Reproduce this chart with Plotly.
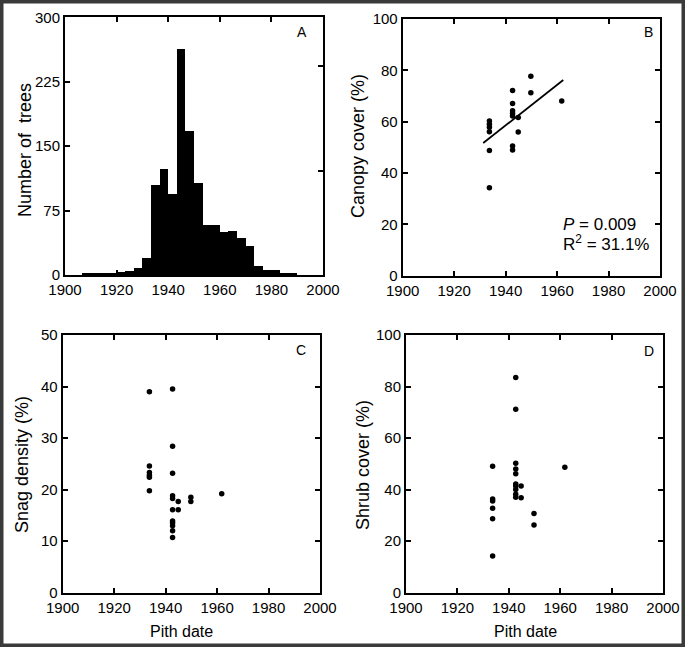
import numpy as np
import plotly.graph_objects as go

# ---------------- data ----------------
# Panel A: histogram of pith dates, 30 bins over 1900-2000
HIST_START = 1900
HIST_END = 2000
HIST_COUNTS = [0, 0, 1, 1, 1, 2, 3, 4, 8, 20,
               105, 123, 94, 263, 167, 107, 58, 58, 50, 51,
               43, 33, 10, 5, 5, 2, 1, 0, 0, 0]

# Panels B-D: site means vs pith date
CANOPY_X = [1933.7] * 6 + [1942.7] * 7 + [1944.9] * 2 + [1949.8] * 2 + [1961.8]
CANOPY_Y = [60.3, 59.0, 57.8, 56.1, 48.8, 34.3,
            72.1, 67.1, 64.3, 63.2, 62.2, 50.5, 49.0,
            61.6, 56.0,
            77.7, 71.3,
            68.1]
FIT_X = [1931.3, 1962.4]

SNAG_X = [1933.7] * 6 + [1942.7] * 11 + [1944.9] * 2 + [1949.8] * 2 + [1961.8]
SNAG_Y = [39.0, 24.6, 23.3, 22.8, 22.4, 19.8,
          39.5, 28.4, 23.2, 18.8, 18.3, 16.1, 13.9, 13.5, 13.0, 12.0, 10.7,
          17.7, 16.1,
          18.5, 17.7,
          19.2]

SHRUB_X = [1933.7] * 6 + [1942.7] * 10 + [1944.8] * 2 + [1949.8] * 2 + [1961.8]
SHRUB_Y = [49.1, 36.4, 35.6, 32.8, 28.7, 14.2,
           83.5, 71.2, 50.2, 48.0, 46.2, 42.2, 41.4, 40.0, 38.2, 37.0,
           41.4, 36.8,
           30.7, 26.3,
           48.7]

X_TICKS = [1900, 1920, 1940, 1960, 1980, 2000]
A_TICKS = [0, 75, 150, 225, 300]
B_TICKS = [0, 20, 40, 60, 80, 100]
C_TICKS = [0, 10, 20, 30, 40, 50]
D_TICKS = [0, 20, 40, 60, 80, 100]

STAT_P = "0.009"
STAT_R2 = "31.1%"

# ---------------- figure ----------------
W, H = 685, 647
FONT = "Liberation Sans, Arial, sans-serif"

nb = len(HIST_COUNTS)
bw = (HIST_END - HIST_START) / nb
centers = [HIST_START + bw * (i + 0.5) for i in range(nb)]
total = sum(HIST_COUNTS)

fig = go.Figure()

fig.add_trace(go.Bar(x=centers, y=HIST_COUNTS, width=bw,
                     marker=dict(color="black", line=dict(width=0)),
                     xaxis="x", yaxis="y", showlegend=False, hoverinfo="skip"))
# invisible trace for the proportion axis on the right of panel A
fig.add_trace(go.Scatter(x=[None], y=[None], xaxis="x", yaxis="y5",
                         showlegend=False, hoverinfo="skip"))

mk = dict(color="black", size=5.5)
fig.add_trace(go.Scatter(x=CANOPY_X, y=CANOPY_Y, mode="markers", marker=mk,
                         xaxis="x2", yaxis="y2", showlegend=False))
coef = np.polyfit(CANOPY_X, CANOPY_Y, 1)
fit_y = [float(np.polyval(coef, v)) for v in FIT_X]
fig.add_trace(go.Scatter(x=FIT_X, y=fit_y, mode="lines",
                         line=dict(color="black", width=1.8),
                         xaxis="x2", yaxis="y2", showlegend=False))
fig.add_trace(go.Scatter(x=SNAG_X, y=SNAG_Y, mode="markers", marker=mk,
                         xaxis="x3", yaxis="y3", showlegend=False))
fig.add_trace(go.Scatter(x=SHRUB_X, y=SHRUB_Y, mode="markers", marker=mk,
                         xaxis="x4", yaxis="y4", showlegend=False))


def px_x(p):
    return p / W


def px_y(p):
    return 1 - p / H


axis_common = dict(showgrid=False, zeroline=False, showline=True,
                   linecolor="black", linewidth=2, ticks="inside",
                   ticklen=5, tickwidth=2, tickcolor="black", automargin=False,
                   tickfont=dict(family=FONT, size=15, color="black"))


def xax(dom, anchor):
    d = dict(axis_common)
    d.update(domain=dom, anchor=anchor, range=[1900, 2000], tickvals=X_TICKS,
             mirror="ticks")
    return d


def yax(dom, anchor, rng, tv, mirror="ticks"):
    d = dict(axis_common)
    d.update(domain=dom, anchor=anchor, range=rng, tickvals=tv, mirror=mirror,
             ticklabelstandoff=0)
    return d


A_X = [px_x(65), px_x(323)]
A_Y = [px_y(275), px_y(17.3)]
B_X = [px_x(402.7), px_x(660)]
B_Y = [px_y(275.7), px_y(19)]
C_X = [px_x(62.7), px_x(320)]
C_Y = [px_y(592.7), px_y(335)]
D_X = [px_x(406), px_x(663)]
D_Y = [px_y(592.7), px_y(335)]

fig.update_layout(
    template="none",
    width=W, height=H,
    margin=dict(l=0, r=0, t=0, b=0, pad=0, autoexpand=False),
    paper_bgcolor="white", plot_bgcolor="white",
    bargap=0,
    font=dict(family=FONT, color="black"),
    xaxis=xax(A_X, "y"),
    yaxis=yax(A_Y, "x", [0, 300], A_TICKS, mirror=True),
    yaxis5=dict(overlaying="y", side="right", anchor="x",
                range=[0, 300 / total], tickvals=[0.1, 0.2],
                ticks="inside", ticklen=5, tickwidth=2, tickcolor="black",
                showticklabels=False, showgrid=False, zeroline=False,
                showline=False, automargin=False),
    xaxis2=xax(B_X, "y2"),
    yaxis2=yax(B_Y, "x2", [0, 100], B_TICKS),
    xaxis3=xax(C_X, "y3"),
    yaxis3=yax(C_Y, "x3", [0, 50], C_TICKS),
    xaxis4=xax(D_X, "y4"),
    yaxis4=yax(D_Y, "x4", [0, 100], D_TICKS),
)

ann = []


def text(x, y, s, size, angle=0, xanchor="center"):
    ann.append(dict(x=px_x(x), y=px_y(y), xref="paper", yref="paper",
                    text=s, showarrow=False, textangle=angle,
                    xanchor=xanchor, yanchor="middle",
                    font=dict(family=FONT, size=size, color="black")))


# panel letters
text(302, 32.5, "A", 14)
text(648.5, 32.5, "B", 14)
text(301, 350, "C", 14)
text(649, 350.5, "D", 14)

# axis titles
text(25, 150, "Number of\u00a0\u00a0trees", 18, -90)
text(358, 146, "Canopy cover (%)", 18, -90)
text(22, 465, "Snag density (%)", 18, -90)
text(363, 465, "Shrub cover (%)", 18, -90)
text(181, 631, "Pith date", 16)
text(525, 631, "Pith date", 16)

# statistics
text(560.5, 224, "<i>P</i> = " + STAT_P, 17, xanchor="left")
text(560.5, 243, "R<sup>2</sup> = " + STAT_R2, 17, xanchor="left")

fig.update_layout(annotations=ann)

# outer frame
fig.add_shape(type="rect", xref="paper", yref="paper", x0=0, x1=1, y0=0, y1=1,
              line=dict(color="#3a3a3a", width=7), fillcolor="rgba(0,0,0,0)")

fig.write_html("out.html",
               config={"displayModeBar": False},
               post_script="document.body.style.margin='0';"
                           "document.body.style.overflow='hidden';")
